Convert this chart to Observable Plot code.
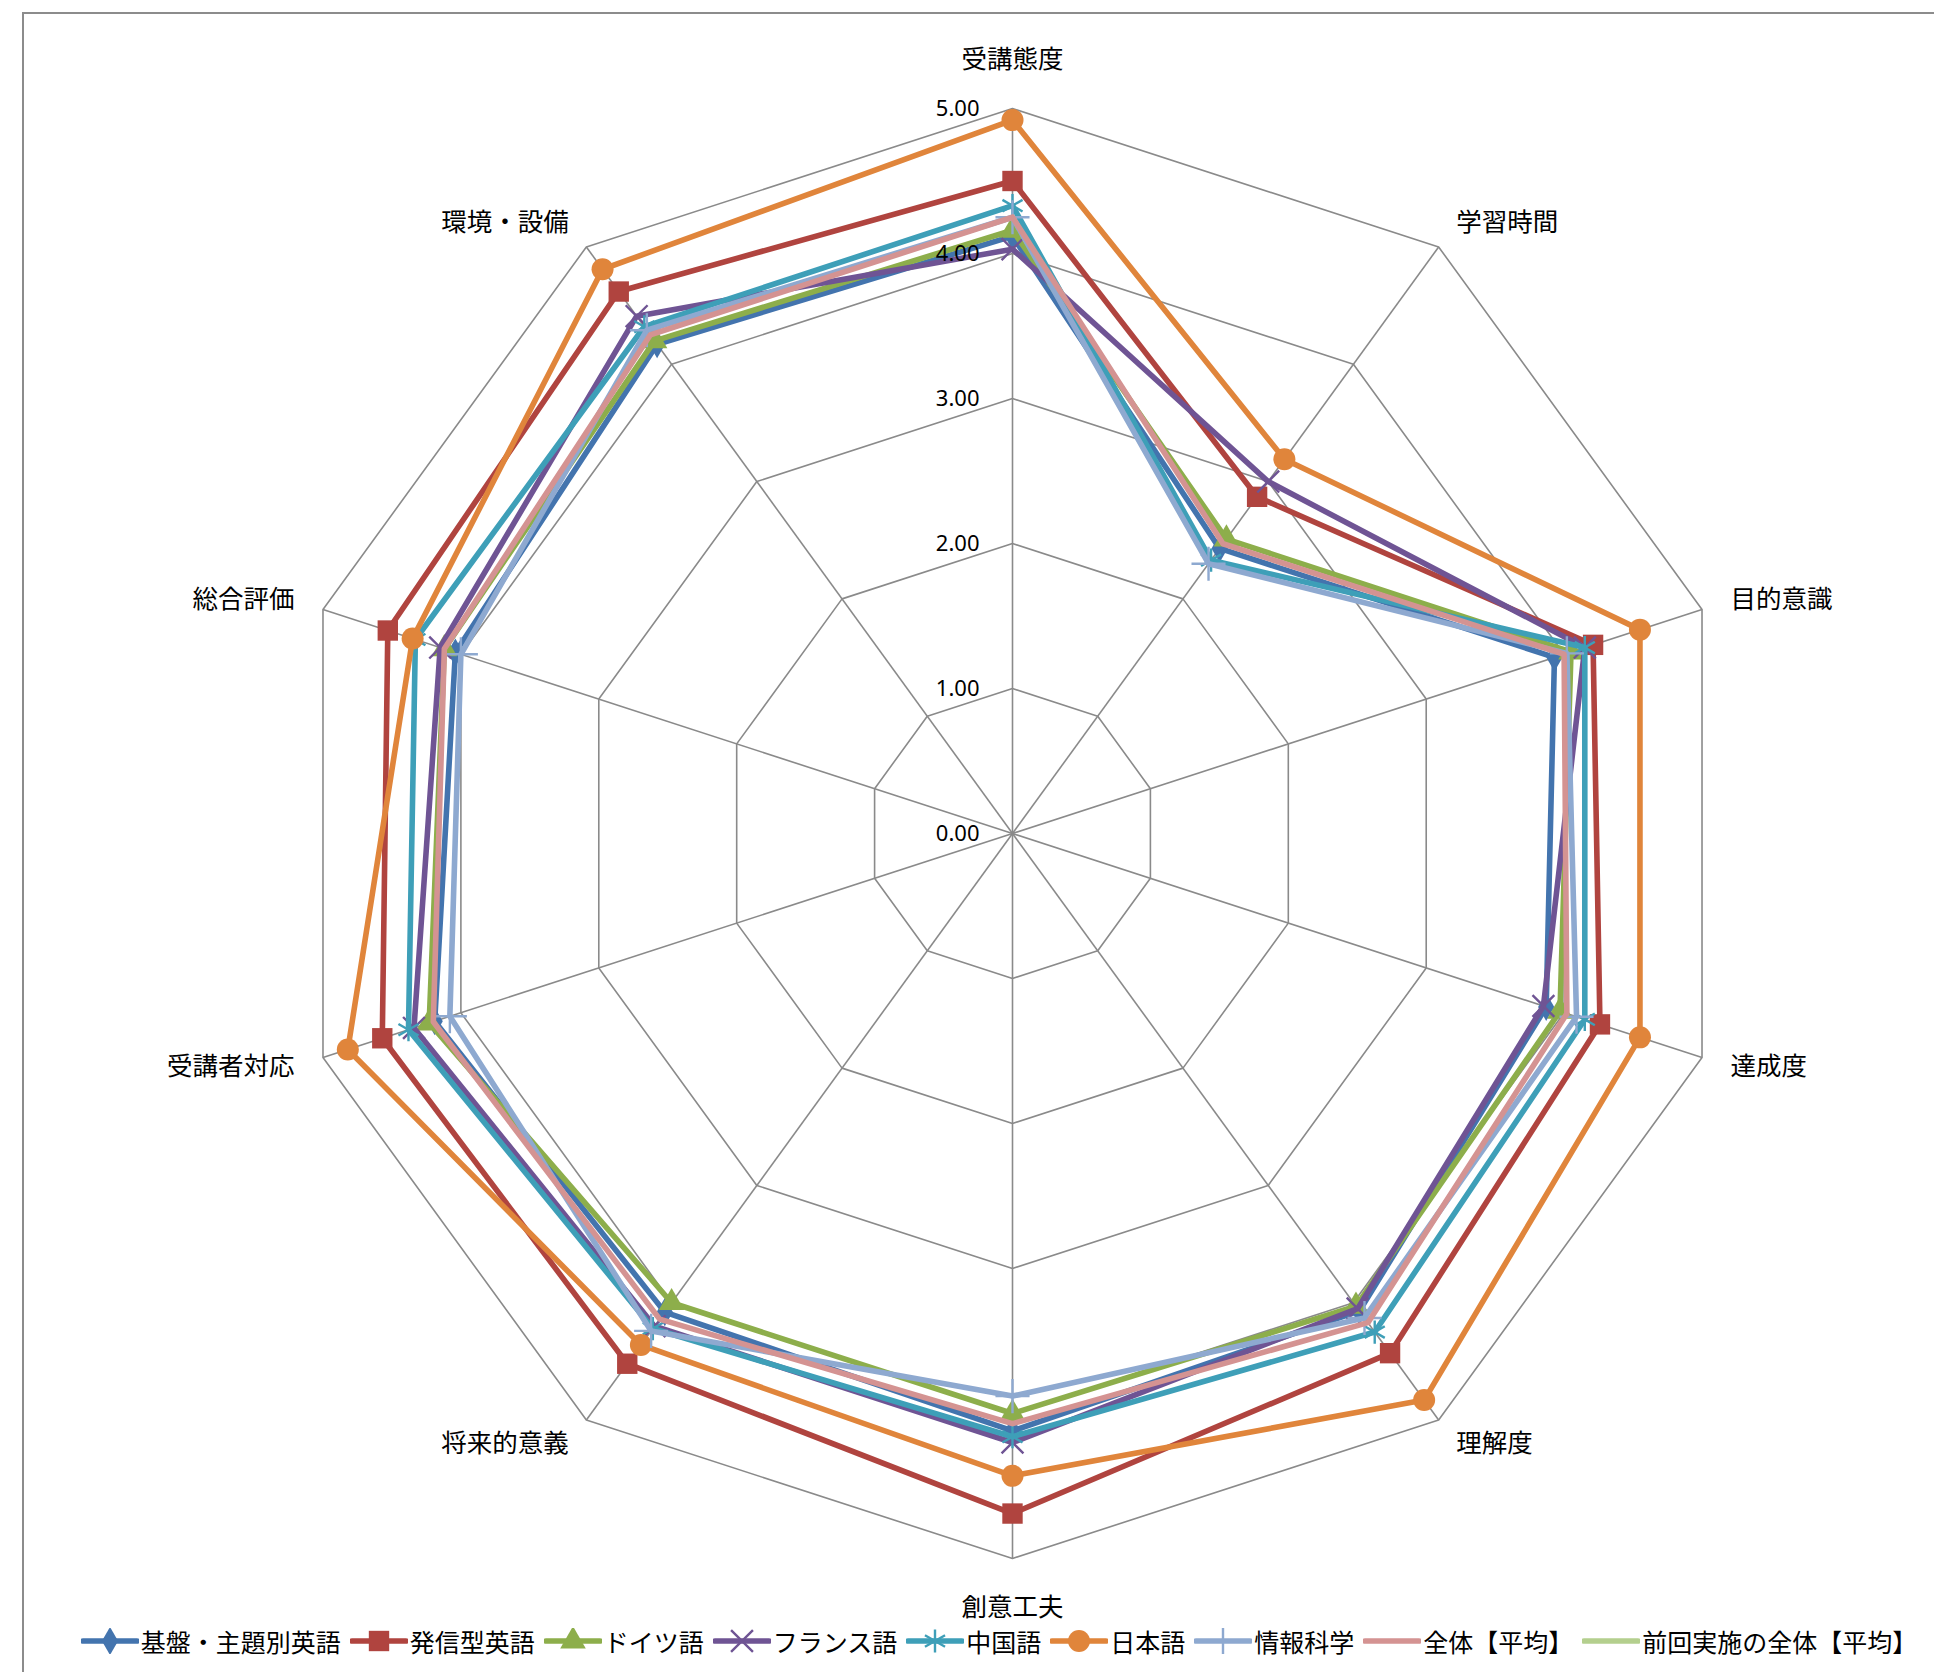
<!DOCTYPE html>
<html>
<head>
<meta charset="utf-8">
<script src="https://cdn.jsdelivr.net/npm/d3@7"></script>
<script src="https://cdn.jsdelivr.net/npm/@observablehq/plot@0.6"></script>
<style>
html,body{margin:0;padding:0;background:#fff;}
#wrap{position:relative;width:1934px;height:1672px;overflow:hidden;background:#fff;}
#frame{position:absolute;left:22px;top:12px;width:3000px;height:3000px;border-left:2px solid #8c8c8c;border-top:2px solid #8c8c8c;}
#chart{position:absolute;left:0;top:0;}
#legend{position:absolute;left:0;top:1620px;width:1934px;height:42px;box-sizing:border-box;padding-left:64px;display:flex;justify-content:center;align-items:center;gap:9px;font-family:"Noto Sans CJK JP",sans-serif;font-size:25px;color:#000;}
.item{display:flex;align-items:center;gap:2px;white-space:nowrap;}
</style>
</head>
<body>
<div id="wrap"><div id="frame"></div><div id="chart"></div><div id="legend"></div></div>
<script>
// ---- data ----
const axes = ["受講態度","学習時間","目的意識","達成度","理解度","創意工夫","将来的意義","受講者対応","総合評価","環境・設備"];
const seriesNames = ["基盤・主題別英語","発信型英語","ドイツ語","フランス語","中国語","日本語","情報科学","全体【平均】","前回実施の全体【平均】"];
const kiban    = [4.12, 2.43, 3.93, 3.87, 4.07, 4.12, 4.08, 4.19, 4.04, 4.17];
const hasshin  = [4.50, 2.87, 4.21, 4.26, 4.43, 4.69, 4.52, 4.57, 4.53, 4.62];
const german   = [4.16, 2.51, 4.05, 3.97, 4.03, 4.00, 4.00, 4.23, 4.12, 4.20];
const french   = [4.03, 3.00, 4.15, 3.85, 4.05, 4.20, 4.20, 4.34, 4.15, 4.41];
const chinese  = [4.33, 2.33, 4.15, 4.15, 4.25, 4.16, 4.22, 4.38, 4.33, 4.32];
const japanese = [4.92, 3.19, 4.55, 4.55, 4.83, 4.43, 4.36, 4.82, 4.35, 4.81];
const infosci  = [4.25, 2.30, 4.02, 4.09, 4.13, 3.88, 4.24, 4.08, 4.00, 4.29];
const overall  = [4.25, 2.47, 4.00, 4.02, 4.17, 4.07, 4.14, 4.20, 4.12, 4.25];
const previous = [];
const tickValues = [0, 1, 2, 3, 4, 5];
const tickLabels = ["0.00","1.00","2.00","3.00","4.00","5.00"];

// ---- styles ----
const values = [kiban, hasshin, german, french, chinese, japanese, infosci, overall, previous];
const colors = ["#4374AE","#B0443F","#8DAE4B","#6F5494","#3E9FB8","#E0853B","#8EA9D0","#D49392","#B4CF8E"];
const symbols = ["diamond","square","triangle","times","asterisk","circle","plus",null,null];
const d3symbols = {diamond:d3.symbolDiamond, square:d3.symbolSquare, triangle:d3.symbolTriangle, times:d3.symbolTimes, asterisk:d3.symbolAsterisk, circle:d3.symbolCircle, plus:d3.symbolPlus};
const filled = {diamond:true, square:true, triangle:true, circle:true, times:false, asterisk:false, plus:false};
const radii = {diamond:8.5, square:11.5, triangle:9.5, circle:11, times:10, asterisk:11, plus:11};

const W = 1934, H = 1620, CX = 1012, CY = 833, U = 145;
const N = axes.length;
const ang = i => i * 2 * Math.PI / N;
const pt = (v, i) => ({x: v * Math.sin(ang(i)), y: v * Math.cos(ang(i))});

const marks = [];
// grid polygons
tickValues.filter(t => t > 0).forEach(t => {
  const ring = d3.range(N + 1).map(i => pt(t, i % N));
  marks.push(Plot.line(ring, {x:"x", y:"y", stroke:"#8a8a8a", strokeWidth:1.6}));
});
// spokes
const spokes = axes.map((a, i) => ({x1:0, y1:0, x2:pt(5, i).x, y2:pt(5, i).y}));
marks.push(Plot.link(spokes, {x1:"x1", y1:"y1", x2:"x2", y2:"y2", stroke:"#8a8a8a", strokeWidth:1.6}));

// series
values.forEach((vals, s) => {
  if (!vals.length) return;
  const pts = vals.map((v, i) => pt(v, i));
  marks.push(Plot.line([...pts, pts[0]], {x:"x", y:"y", stroke:colors[s], strokeWidth:5.6, strokeLinejoin:"round"}));
  const sym = symbols[s];
  if (sym) {
    const opts = {x:"x", y:"y", symbol:sym, r:radii[sym]};
    if (filled[sym]) { opts.fill = colors[s]; opts.stroke = "none"; }
    else { opts.stroke = colors[s]; opts.fill = "none"; opts.strokeWidth = 2.4; }
    marks.push(Plot.dot(pts, opts));
  }
});

// tick labels
marks.push(Plot.text(tickValues, {x: () => -33 / U, y: d => d, text: (d, i) => tickLabels[i], textAnchor:"end", fontSize:22, fill:"#000", fontFamily:"'Noto Sans', sans-serif"}));

// axis labels
const labelData = axes.map((a, i) => {
  const s = Math.sin(ang(i)), c = Math.cos(ang(i));
  const d = (Math.abs(c) > 0.99 ? 49 : 30) / U;
  return {name:a, x:(5 + d) * s, y:(5 + d) * c, anchor: Math.abs(s) < 0.01 ? "middle" : (s > 0 ? "start" : "end")};
});
["start","middle","end"].forEach(anc => {
  marks.push(Plot.text(labelData.filter(d => d.anchor === anc), {x:"x", y:"y", text:"name", textAnchor:anc, fontSize:25.5, fill:"#000", fontFamily:"'Noto Sans CJK JP', sans-serif"}));
});

const chart = Plot.plot({
  width: W, height: H, margin: 0,
  x: {domain:[-CX / U, (W - CX) / U], range:[0, W], axis:null},
  y: {domain:[-(H - CY) / U, CY / U], range:[H, 0], axis:null},
  style: {background:"transparent", overflow:"visible"},
  marks
});
document.getElementById("chart").appendChild(chart);

// legend
const legend = d3.select("#legend");
seriesNames.forEach((name, s) => {
  const item = legend.append("div").attr("class", "item");
  const svg = item.append("svg").attr("width", 58).attr("height", 26);
  svg.append("line").attr("x1", 2).attr("x2", 56).attr("y1", 13).attr("y2", 13)
    .attr("stroke", colors[s]).attr("stroke-width", 5.6).attr("stroke-linecap", "round");
  const sym = symbols[s];
  if (sym) {
    const r = radii[sym];
    const path = d3.symbol(d3symbols[sym], Math.PI * r * r)();
    const p = svg.append("path").attr("d", path).attr("transform", "translate(29,13)");
    if (filled[sym]) p.attr("fill", colors[s]);
    else p.attr("fill", "none").attr("stroke", colors[s]).attr("stroke-width", 2.4);
  }
  item.append("span").text(name);
});
</script>
</body>
</html>
